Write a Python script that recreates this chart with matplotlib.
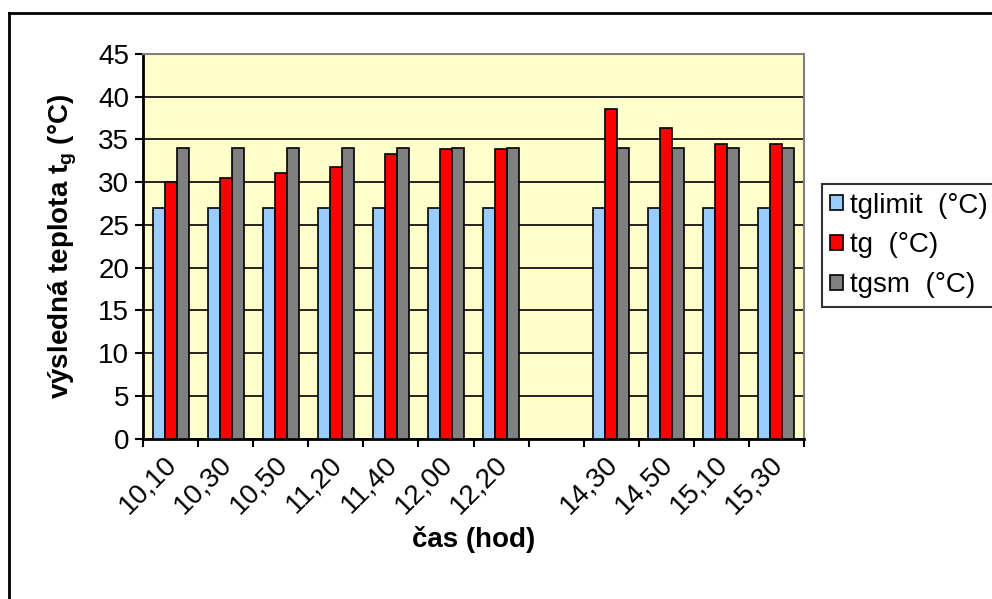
import numpy as np
import matplotlib
matplotlib.use("Agg")
import matplotlib.pyplot as plt
from matplotlib.lines import Line2D

plt.rcParams['font.family'] = ['Liberation Sans', 'DejaVu Sans']
plt.rcParams['mathtext.fontset'] = 'custom'
plt.rcParams['mathtext.bf'] = 'Liberation Sans:bold'
plt.rcParams['mathtext.rm'] = 'Liberation Sans'

# data (empty category between 12,20 and 14,30)
casy = ['10,10', '10,30', '10,50', '11,20', '11,40', '12,00', '12,20', '',
        '14,30', '14,50', '15,10', '15,30']
tglimit = [27, 27, 27, 27, 27, 27, 27, np.nan, 27, 27, 27, 27]
tg = [30.0, 30.5, 31.1, 31.8, 33.3, 33.85, 33.85, np.nan, 38.6, 36.3, 34.5, 34.5]
tgsm = [34, 34, 34, 34, 34, 34, 34, np.nan, 34, 34, 34, 34]

W, H = 992, 599
fig = plt.figure(figsize=(W / 100, H / 100), dpi=100)
ax = fig.add_axes([143 / W, 1 - 438.7 / H, (804 - 143) / W, (438.7 - 54) / H])
ax.set_facecolor('#FFFFCC')

x = np.arange(len(casy))
w = 0.218
serie = [(tglimit, '#99CCFF', 'tglimit  (°C)'),
         (tg, '#FF0000', 'tg  (°C)'),
         (tgsm, '#808080', 'tgsm  (°C)')]
for k, (vals, col, lab) in enumerate(serie):
    ax.bar(x + (k - 1) * w, vals, width=w, color=col, edgecolor='black',
           linewidth=1.2, label=lab, zorder=3)

ax.set_xlim(-0.5, len(casy) - 0.5)
ax.set_ylim(0, 45)
ax.set_yticks(np.arange(0, 46, 5))
ax.yaxis.grid(True, color='black', linewidth=1.2, zorder=1)
ax.set_axisbelow(True)

ax.set_xticks(x - 0.12)
ax.set_xticklabels(casy, rotation=45, ha='right', rotation_mode='anchor')
ax.set_xticks(np.arange(-0.5, len(casy), 1), minor=True)
ax.tick_params(axis='x', which='major', length=0, pad=9, labelsize=20)
ax.tick_params(axis='x', which='minor', length=6, width=1.5, direction='out')
ax.tick_params(axis='y', length=6, width=1.5, direction='out', labelsize=20, pad=4)

for s in ['left', 'bottom']:
    ax.spines[s].set_linewidth(2)
    ax.spines[s].set_color('black')
for s in ['top', 'right']:
    ax.spines[s].set_linewidth(1.5)
    ax.spines[s].set_color('#808080')

ax.set_ylabel(r'výsledná teplota t$\mathbf{_g}$ (°C)', fontsize=20,
              fontweight='bold', labelpad=14)
ax.set_xlabel('čas (hod)', fontsize=20, fontweight='bold', labelpad=5)

leg = fig.legend(loc='center left', bbox_to_anchor=(822 / W, 1 - 245.5 / H),
                 fontsize=20, frameon=True, fancybox=False, edgecolor='black',
                 handlelength=0.45, handleheight=0.45, handletextpad=0.25,
                 borderpad=0.3, labelspacing=0.5, borderaxespad=0)
leg.get_frame().set_linewidth(1.5)

# outer frame (only left and top edges visible)
fig.add_artist(Line2D([9 / W, 9 / W], [0, 1 - 13 / H], color='black',
                      linewidth=2, transform=fig.transFigure))
fig.add_artist(Line2D([9 / W, 1], [1 - 13 / H, 1 - 13 / H], color='black',
                      linewidth=2, transform=fig.transFigure))

fig.savefig('out.png', dpi=100)
